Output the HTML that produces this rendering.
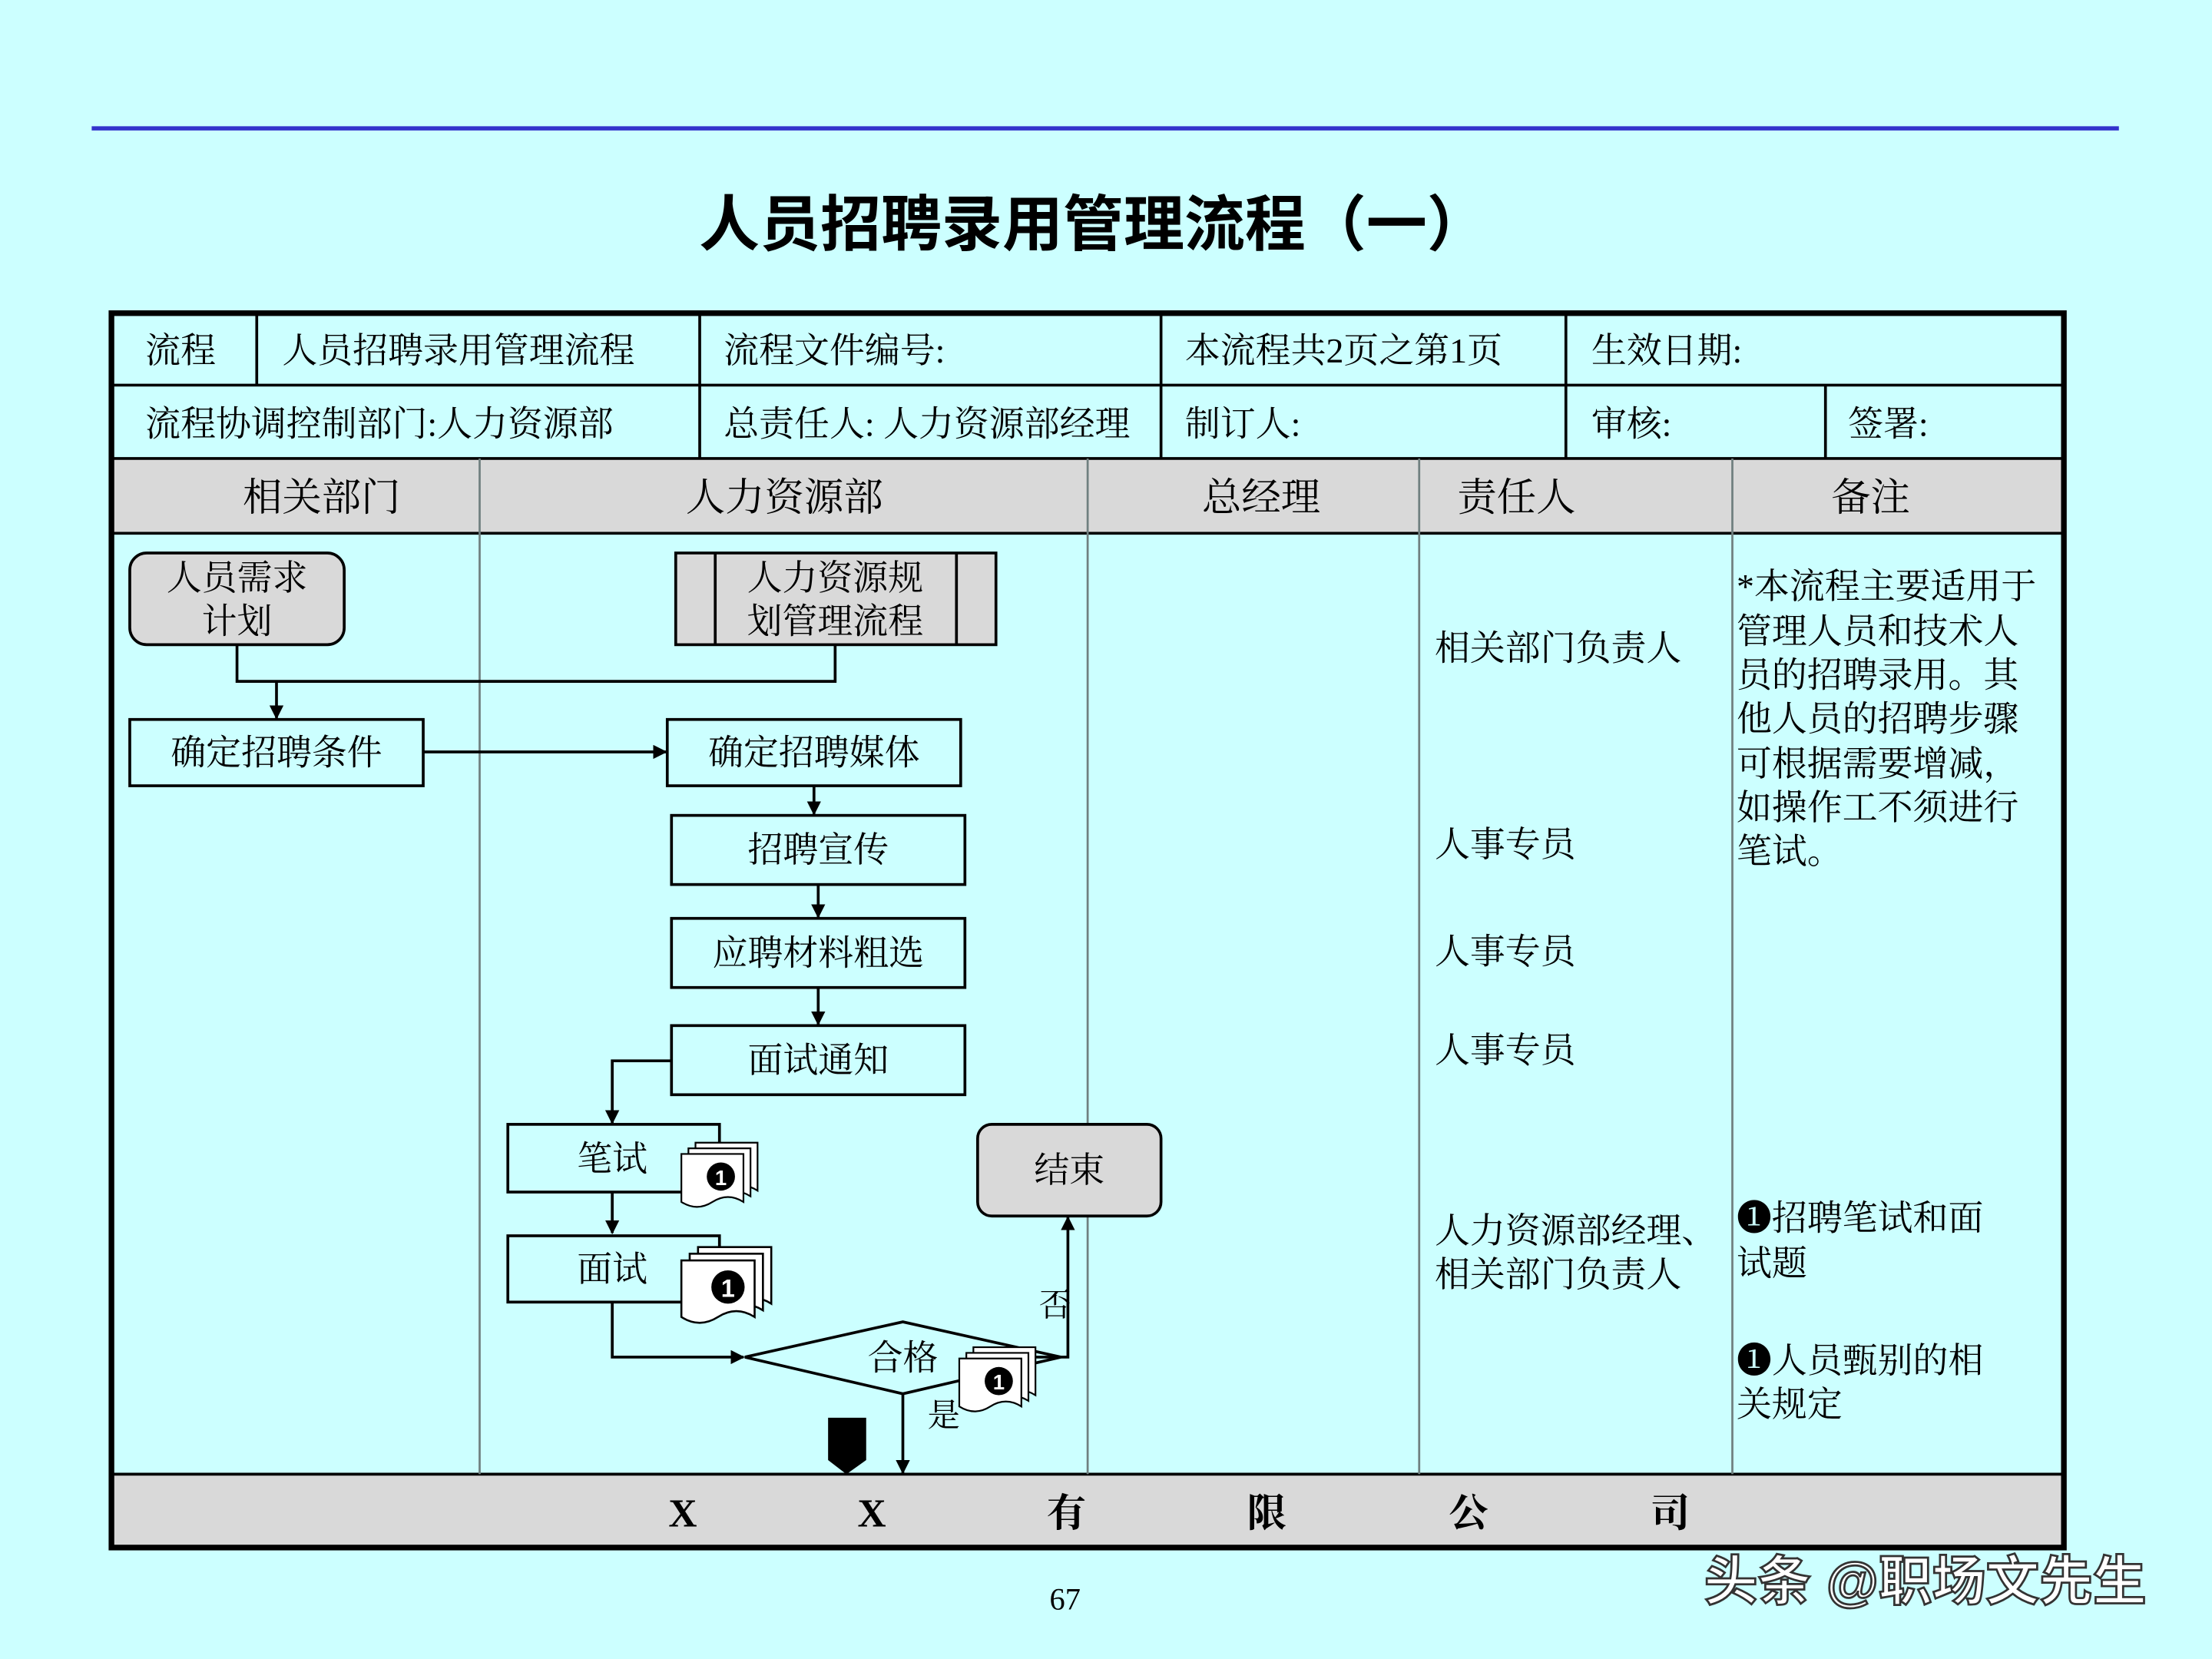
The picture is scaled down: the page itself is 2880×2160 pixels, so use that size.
<!DOCTYPE html>
<html><head><meta charset="utf-8"><style>
html,body{margin:0;padding:0;background:#ccffff;}
svg{display:block}
.s{font-family:"Liberation Serif","Noto Serif CJK SC",serif;}
.h{font-family:"Liberation Sans","Noto Sans CJK SC",sans-serif;}
</style></head><body>
<svg width="2880" height="2160" viewBox="0 0 1568 1176" xmlns="http://www.w3.org/2000/svg">
<defs>
<marker id="a" markerWidth="10" markerHeight="10" refX="9" refY="5" orient="auto" markerUnits="userSpaceOnUse"><path d="M0,0 L10,5 L0,10 z" fill="#000"/></marker>
<g id="doc">
<path d="M10,0 h44 v34 q-11,-7 -22,0 t-22,0 z" fill="#fff" stroke="#000" stroke-width="1.2"/>
<path d="M5,4 h44 v34 q-11,-7 -22,0 t-22,0 z" fill="#fff" stroke="#000" stroke-width="1.2"/>
<path d="M0,8 h44 v34 q-11,-7 -22,0 t-22,0 z" fill="#fff" stroke="#000" stroke-width="1.2"/>
<circle cx="28" cy="24" r="10" fill="#000"/>
<text x="28" y="30" font-size="15" font-weight="bold" fill="#fff" text-anchor="middle" class="h">1</text>
</g>
</defs>
<rect width="1568" height="1176" fill="#ccffff"/>
<line x1="65" y1="91" x2="1502" y2="91" stroke="#3333cc" stroke-width="3"/>
<text x="775" y="174" font-size="43" text-anchor="middle" class="h" font-weight="bold">人员招聘录用管理流程（一）</text>

<rect x="80" y="325" width="1382" height="53" fill="#d9d9d9"/>
<rect x="80" y="1045" width="1382" height="51" fill="#d9d9d9"/>
<g stroke="#000" stroke-width="2">
<line x1="80" y1="273" x2="1462" y2="273"/>
<line x1="80" y1="325" x2="1462" y2="325"/>
<line x1="80" y1="378" x2="1462" y2="378"/>
<line x1="80" y1="1045" x2="1462" y2="1045"/>
<line x1="182" y1="221" x2="182" y2="273"/>
<line x1="496" y1="221" x2="496" y2="325"/>
<line x1="823" y1="221" x2="823" y2="325"/>
<line x1="1110" y1="221" x2="1110" y2="325"/>
<line x1="1294" y1="273" x2="1294" y2="325"/>
</g>
<g stroke="#708080" stroke-width="1.5">
<line x1="340" y1="325" x2="340" y2="1045"/>
<line x1="771" y1="325" x2="771" y2="1045"/>
<line x1="1006" y1="325" x2="1006" y2="1045"/>
<line x1="1228" y1="325" x2="1228" y2="1045"/>
</g>
<rect x="79" y="222" width="1384" height="875" fill="none" stroke="#000" stroke-width="4"/>

<g class="s" font-size="25">
<text x="103" y="257">流程</text>
<text x="200" y="257">人员招聘录用管理流程</text>
<text x="513" y="257">流程文件编号:</text>
<text x="840" y="257">本流程共2页之第1页</text>
<text x="1128" y="257">生效日期:</text>
<text x="103" y="309">流程协调控制部门:人力资源部</text>
<text x="513" y="309">总责任人: 人力资源部经理</text>
<text x="840" y="309">制订人:</text>
<text x="1128" y="309">审核:</text>
<text x="1310" y="309">签署:</text>
</g>
<g class="s" font-size="28" text-anchor="middle">
<text x="228" y="362">相关部门</text>
<text x="556" y="362">人力资源部</text>
<text x="894" y="362">总经理</text>
<text x="1075" y="362">责任人</text>
<text x="1326" y="362">备注</text>
</g>
<g class="s" font-size="28" font-weight="bold" text-anchor="middle">
<text x="484" y="1082">X</text><text x="618" y="1082">X</text><text x="756" y="1082">有</text>
<text x="898" y="1082">限</text><text x="1041" y="1082">公</text><text x="1184" y="1082">司</text>
</g>

<g stroke="#000" stroke-width="2" fill="none">
<rect x="92" y="392" width="152" height="65" rx="12" fill="#d9d9d9"/>
<rect x="479" y="392" width="227" height="65" fill="#d9d9d9"/>
<line x1="507" y1="392" x2="507" y2="457"/><line x1="678" y1="392" x2="678" y2="457"/>
<polyline points="168,457 168,483 592,483 592,457"/>
<line x1="196" y1="483" x2="196" y2="509" marker-end="url(#a)"/>
<rect x="92" y="510" width="208" height="47"/>
<line x1="300" y1="533" x2="472" y2="533" marker-end="url(#a)"/>
<rect x="473" y="510" width="208" height="47"/>
<line x1="577" y1="557" x2="577" y2="577" marker-end="url(#a)"/>
<rect x="476" y="578" width="208" height="49"/>
<line x1="580" y1="627" x2="580" y2="650" marker-end="url(#a)"/>
<rect x="476" y="651" width="208" height="49"/>
<line x1="580" y1="700" x2="580" y2="726" marker-end="url(#a)"/>
<rect x="476" y="727" width="208" height="49"/>
<polyline points="476,752 434,752 434,796" marker-end="url(#a)"/>
<rect x="360" y="797" width="150" height="48"/>
<line x1="434" y1="845" x2="434" y2="874" marker-end="url(#a)"/>
<rect x="360" y="876" width="150" height="47"/>
<polyline points="434,923 434,962 527,962" marker-end="url(#a)"/>
<polygon points="528,962 640,937 752,962 640,988"/>
<polyline points="720,962 757,962 757,863" marker-end="url(#a)"/>
<rect x="693" y="797" width="130" height="65" rx="10" fill="#d9d9d9"/>
<line x1="640" y1="988" x2="640" y2="1044" marker-end="url(#a)"/>
</g>
<polygon points="587,1005 614,1005 614,1035 600,1045 587,1035" fill="#000"/>
<use href="#doc" x="483" y="810"/>
<g transform="translate(483,884) scale(1.18)"><use href="#doc"/></g>
<use href="#doc" x="680" y="955"/>

<g class="s" font-size="25" text-anchor="middle">
<text x="168" y="418">人员需求</text><text x="168" y="449">计划</text>
<text x="592" y="418">人力资源规</text><text x="592" y="449">划管理流程</text>
<text x="196" y="542">确定招聘条件</text>
<text x="577" y="542">确定招聘媒体</text>
<text x="580" y="611">招聘宣传</text>
<text x="580" y="684">应聘材料粗选</text>
<text x="580" y="760">面试通知</text>
<text x="434" y="830">笔试</text>
<text x="434" y="908">面试</text>
<text x="640" y="971">合格</text>
<text x="758" y="838">结束</text>
<text x="748" y="933" font-size="23">否</text>
<text x="669" y="1011" font-size="23">是</text>
</g>
<g class="s" font-size="25">
<text x="1017" y="468">相关部门负责人</text>
<text x="1017" y="607">人事专员</text>
<text x="1017" y="683">人事专员</text>
<text x="1017" y="753">人事专员</text>
<text x="1017" y="881">人力资源部经理、</text>
<text x="1017" y="912">相关部门负责人</text>
<text x="1231" y="424">*本流程主要适用于</text>
<text x="1231" y="456">管理人员和技术人</text>
<text x="1231" y="487">员的招聘录用。其</text>
<text x="1231" y="518">他人员的招聘步骤</text>
<text x="1231" y="550">可根据需要增减，</text>
<text x="1231" y="581">如操作工不须进行</text>
<text x="1231" y="612">笔试。</text>
<text x="1231" y="872">❶招聘笔试和面</text>
<text x="1231" y="904">试题</text>
<text x="1231" y="973">❶人员甄别的相</text>
<text x="1231" y="1004">关规定</text>
</g>
<text x="755" y="1141" font-size="22" text-anchor="middle" class="s">67</text>
<text x="1208" y="1134" font-size="38" class="h" font-weight="bold" fill="#fff" stroke="#333" stroke-width="1.5">头条 @职场文先生</text>
</svg>
</body></html>
